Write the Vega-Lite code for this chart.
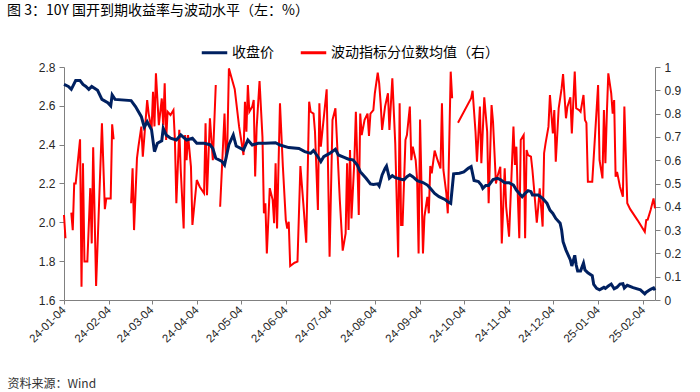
{
  "$schema": "https://vega.github.io/schema/vega-lite/v6.json",
  "width": 591,
  "height": 233,
  "autosize": "none",
  "padding": {"left": 64, "top": 67, "right": 45, "bottom": 92},
  "background": "white",
  "config": {
    "view": {"stroke": null},
    "font": "Liberation Sans",
    "axis": {"grid": false, "domainColor": "#808080", "tickColor": "#808080", "labelColor": "#262626", "labelFont": "Liberation Sans"},
    "legend": {"labelFont": "Noto Sans CJK SC", "labelFontSize": 14, "labelColor": "#000000", "labelLimit": 400}
  },
  "title": {
    "text": "图 3：10Y 国开到期收益率与波动水平（左：%）",
    "anchor": "start",
    "frame": "group",
    "dx": -57,
    "offset": 20,
    "fontSize": 14,
    "font": "Noto Sans CJK SC",
    "fontWeight": "normal",
    "color": "#000000"
  },
  "datasets": {
    "yield": [
      {"d":"2024-01-04","v":2.71},{"d":"2024-01-07","v":2.70},{"d":"2024-01-09","v":2.685},{"d":"2024-01-12","v":2.73},
      {"d":"2024-01-15","v":2.73},{"d":"2024-01-17","v":2.71},{"d":"2024-01-19","v":2.70},{"d":"2024-01-21","v":2.685},
      {"d":"2024-01-23","v":2.70},{"d":"2024-01-27","v":2.68},{"d":"2024-01-30","v":2.633},{"d":"2024-02-03","v":2.616},
      {"d":"2024-02-05","v":2.60},{"d":"2024-02-06","v":2.656},{"d":"2024-02-08","v":2.633},{"d":"2024-02-19","v":2.627},
      {"d":"2024-02-22","v":2.596},{"d":"2024-02-26","v":2.544},{"d":"2024-02-28","v":2.49},{"d":"2024-03-01","v":2.518},
      {"d":"2024-03-04","v":2.476},{"d":"2024-03-06","v":2.364},{"d":"2024-03-08","v":2.407},{"d":"2024-03-11","v":2.42},
      {"d":"2024-03-12","v":2.484},{"d":"2024-03-14","v":2.45},{"d":"2024-03-17","v":2.433},{"d":"2024-03-21","v":2.424},
      {"d":"2024-03-24","v":2.45},{"d":"2024-03-28","v":2.424},{"d":"2024-04-01","v":2.433},{"d":"2024-04-04","v":2.407},
      {"d":"2024-04-09","v":2.407},{"d":"2024-04-13","v":2.40},{"d":"2024-04-15","v":2.38},{"d":"2024-04-17","v":2.33},
      {"d":"2024-04-21","v":2.315},{"d":"2024-04-23","v":2.295},{"d":"2024-04-26","v":2.40},{"d":"2024-04-29","v":2.45},
      {"d":"2024-05-01","v":2.393},{"d":"2024-05-06","v":2.373},{"d":"2024-05-09","v":2.424},{"d":"2024-05-12","v":2.398},
      {"d":"2024-05-16","v":2.407},{"d":"2024-05-21","v":2.407},{"d":"2024-05-28","v":2.41},{"d":"2024-05-31","v":2.398},
      {"d":"2024-06-06","v":2.385},{"d":"2024-06-13","v":2.38},{"d":"2024-06-17","v":2.364},{"d":"2024-06-21","v":2.355},
      {"d":"2024-06-23","v":2.37},{"d":"2024-06-26","v":2.338},{"d":"2024-06-28","v":2.313},{"d":"2024-06-30","v":2.338},
      {"d":"2024-07-04","v":2.355},{"d":"2024-07-08","v":2.376},{"d":"2024-07-10","v":2.347},{"d":"2024-07-14","v":2.335},
      {"d":"2024-07-17","v":2.325},{"d":"2024-07-20","v":2.322},{"d":"2024-07-23","v":2.295},{"d":"2024-07-25","v":2.261},
      {"d":"2024-07-29","v":2.227},{"d":"2024-08-01","v":2.198},{"d":"2024-08-03","v":2.195},{"d":"2024-08-06","v":2.198},
      {"d":"2024-08-07","v":2.187},{"d":"2024-08-09","v":2.244},{"d":"2024-08-11","v":2.278},{"d":"2024-08-12","v":2.29},
      {"d":"2024-08-14","v":2.227},{"d":"2024-08-16","v":2.24},{"d":"2024-08-18","v":2.23},{"d":"2024-08-22","v":2.222},
      {"d":"2024-08-24","v":2.219},{"d":"2024-08-26","v":2.235},{"d":"2024-08-28","v":2.245},{"d":"2024-08-30","v":2.235},
      {"d":"2024-09-02","v":2.215},{"d":"2024-09-06","v":2.205},{"d":"2024-09-09","v":2.192},{"d":"2024-09-11","v":2.175},
      {"d":"2024-09-14","v":2.149},{"d":"2024-09-17","v":2.132},{"d":"2024-09-21","v":2.118},{"d":"2024-09-23","v":2.106},
      {"d":"2024-09-25","v":2.098},{"d":"2024-09-27","v":2.25},{"d":"2024-10-01","v":2.253},{"d":"2024-10-04","v":2.26},
      {"d":"2024-10-07","v":2.278},{"d":"2024-10-09","v":2.287},{"d":"2024-10-11","v":2.215},{"d":"2024-10-14","v":2.21},
      {"d":"2024-10-16","v":2.192},{"d":"2024-10-17","v":2.175},{"d":"2024-10-19","v":2.19},{"d":"2024-10-21","v":2.19},
      {"d":"2024-10-24","v":2.22},{"d":"2024-10-27","v":2.227},{"d":"2024-10-29","v":2.22},{"d":"2024-11-01","v":2.204},
      {"d":"2024-11-04","v":2.204},{"d":"2024-11-07","v":2.192},{"d":"2024-11-09","v":2.166},{"d":"2024-11-11","v":2.149},
      {"d":"2024-11-13","v":2.132},{"d":"2024-11-15","v":2.149},{"d":"2024-11-17","v":2.163},{"d":"2024-11-19","v":2.158},
      {"d":"2024-11-20","v":2.141},{"d":"2024-11-24","v":2.141},{"d":"2024-11-27","v":2.123},{"d":"2024-11-30","v":2.098},
      {"d":"2024-12-02","v":2.063},{"d":"2024-12-04","v":2.046},{"d":"2024-12-06","v":2.02},{"d":"2024-12-09","v":1.995},
      {"d":"2024-12-10","v":1.961},{"d":"2024-12-11","v":1.90},{"d":"2024-12-13","v":1.857},{"d":"2024-12-16","v":1.806},
      {"d":"2024-12-17","v":1.775},{"d":"2024-12-19","v":1.83},{"d":"2024-12-20","v":1.78},{"d":"2024-12-21","v":1.75},
      {"d":"2024-12-23","v":1.75},{"d":"2024-12-25","v":1.79},{"d":"2024-12-26","v":1.755},{"d":"2024-12-28","v":1.74},
      {"d":"2024-12-31","v":1.725},{"d":"2025-01-01","v":1.68},{"d":"2025-01-03","v":1.66},{"d":"2025-01-05","v":1.652},
      {"d":"2025-01-08","v":1.665},{"d":"2025-01-09","v":1.66},{"d":"2025-01-11","v":1.672},{"d":"2025-01-13","v":1.682},
      {"d":"2025-01-15","v":1.658},{"d":"2025-01-17","v":1.666},{"d":"2025-01-19","v":1.682},{"d":"2025-01-21","v":1.684},
      {"d":"2025-01-22","v":1.662},{"d":"2025-01-24","v":1.676},{"d":"2025-01-28","v":1.664},{"d":"2025-02-02","v":1.652},
      {"d":"2025-02-05","v":1.632},{"d":"2025-02-06","v":1.64},{"d":"2025-02-09","v":1.655},{"d":"2025-02-11","v":1.662},
      {"d":"2025-02-12","v":1.65}
    ],
    "vol": [
      {"d":"2024-01-04","v":0.365},{"d":"2024-01-05","v":0.265},{"d":"2024-01-07","v":null},{"d":"2024-01-09","v":0.375},
      {"d":"2024-01-10","v":0.30},{"d":"2024-01-11","v":0.50},{"d":"2024-01-12","v":0.50},{"d":"2024-01-15","v":0.69},
      {"d":"2024-01-16","v":0.057},{"d":"2024-01-17","v":0.587},{"d":"2024-01-18","v":0.165},{"d":"2024-01-20","v":0.165},
      {"d":"2024-01-22","v":0.48},{"d":"2024-01-23","v":0.243},{"d":"2024-01-24","v":0.655},{"d":"2024-01-26","v":0.06},
      {"d":"2024-01-30","v":0.758},{"d":"2024-02-01","v":0.39},{"d":"2024-02-02","v":0.436},{"d":"2024-02-05","v":0.436},
      {"d":"2024-02-06","v":0.754},{"d":"2024-02-07","v":0.69},{"d":"2024-02-08","v":null},{"d":"2024-02-19","v":0.415},
      {"d":"2024-02-20","v":0.565},{"d":"2024-02-21","v":0.30},{"d":"2024-02-23","v":0.608},{"d":"2024-02-24","v":0.658},
      {"d":"2024-02-26","v":0.744},{"d":"2024-02-27","v":0.615},{"d":"2024-03-01","v":0.858},{"d":"2024-03-02","v":0.80},
      {"d":"2024-03-04","v":0.73},{"d":"2024-03-05","v":0.894},{"d":"2024-03-06","v":0.745},{"d":"2024-03-07","v":0.973},
      {"d":"2024-03-09","v":0.75},{"d":"2024-03-11","v":0.865},{"d":"2024-03-12","v":0.75},{"d":"2024-03-13","v":0.93},
      {"d":"2024-03-14","v":0.687},{"d":"2024-03-15","v":0.808},{"d":"2024-03-17","v":0.794},{"d":"2024-03-19","v":0.815},
      {"d":"2024-03-20","v":0.687},{"d":"2024-03-21","v":0.415},{"d":"2024-03-23","v":0.73},{"d":"2024-03-24","v":0.558},
      {"d":"2024-03-26","v":0.307},{"d":"2024-03-27","v":0.708},{"d":"2024-03-28","v":0.60},{"d":"2024-03-29","v":0.708},
      {"d":"2024-03-31","v":0.572},{"d":"2024-04-01","v":0.322},{"d":"2024-04-04","v":0.515},{"d":"2024-04-06","v":0.486},
      {"d":"2024-04-09","v":0.458},{"d":"2024-04-10","v":0.758},{"d":"2024-04-11","v":0.45},{"d":"2024-04-13","v":0.78},
      {"d":"2024-04-15","v":0.60},{"d":"2024-04-17","v":0.923},{"d":"2024-04-18","v":null},{"d":"2024-04-20","v":0.40},
      {"d":"2024-04-23","v":0.80},{"d":"2024-04-24","v":0.60},{"d":"2024-04-25","v":0.687},{"d":"2024-04-26","v":0.994},
      {"d":"2024-04-28","v":0.95},{"d":"2024-04-30","v":0.905},{"d":"2024-05-03","v":0.744},{"d":"2024-05-06","v":0.622},
      {"d":"2024-05-07","v":0.851},{"d":"2024-05-08","v":0.722},{"d":"2024-05-09","v":0.923},{"d":"2024-05-10","v":0.808},
      {"d":"2024-05-12","v":0.83},{"d":"2024-05-13","v":0.858},{"d":"2024-05-14","v":0.53},{"d":"2024-05-15","v":0.737},
      {"d":"2024-05-17","v":0.94},{"d":"2024-05-19","v":0.70},{"d":"2024-05-20","v":0.372},{"d":"2024-05-21","v":0.415},
      {"d":"2024-05-22","v":0.20},{"d":"2024-05-24","v":0.48},{"d":"2024-05-26","v":0.43},{"d":"2024-05-27","v":0.33},
      {"d":"2024-05-28","v":0.587},{"d":"2024-05-29","v":0.307},{"d":"2024-05-31","v":0.844},{"d":"2024-06-02","v":0.572},
      {"d":"2024-06-04","v":0.343},{"d":"2024-06-05","v":0.307},{"d":"2024-06-06","v":0.336},{"d":"2024-06-07","v":0.146},
      {"d":"2024-06-10","v":0.16},{"d":"2024-06-12","v":0.165},{"d":"2024-06-14","v":0.575},{"d":"2024-06-16","v":0.415},
      {"d":"2024-06-18","v":0.246},{"d":"2024-06-20","v":0.851},{"d":"2024-06-21","v":0.808},{"d":"2024-06-23","v":0.80},
      {"d":"2024-06-24","v":0.722},{"d":"2024-06-26","v":0.386},{"d":"2024-06-27","v":0.844},{"d":"2024-06-28","v":0.658},
      {"d":"2024-07-02","v":0.904},{"d":"2024-07-04","v":0.186},{"d":"2024-07-06","v":0.773},{"d":"2024-07-08","v":0.823},
      {"d":"2024-07-11","v":0.43},{"d":"2024-07-13","v":0.212},{"d":"2024-07-15","v":0.286},{"d":"2024-07-16","v":0.587},
      {"d":"2024-07-17","v":0.30},{"d":"2024-07-18","v":0.644},{"d":"2024-07-19","v":0.35},{"d":"2024-07-21","v":0.60},
      {"d":"2024-07-22","v":0.808},{"d":"2024-07-23","v":0.60},{"d":"2024-07-24","v":0.365},{"d":"2024-07-25","v":0.80},
      {"d":"2024-07-26","v":0.708},{"d":"2024-07-28","v":0.773},{"d":"2024-07-30","v":0.80},{"d":"2024-07-31","v":0.704},
      {"d":"2024-08-01","v":0.80},{"d":"2024-08-03","v":0.815},{"d":"2024-08-04","v":0.887},{"d":"2024-08-06","v":0.976},
      {"d":"2024-08-07","v":0.93},{"d":"2024-08-08","v":0.844},{"d":"2024-08-09","v":0.73},{"d":"2024-08-11","v":0.83},
      {"d":"2024-08-13","v":0.887},{"d":"2024-08-14","v":0.73},{"d":"2024-08-16","v":0.951},{"d":"2024-08-18","v":0.672},
      {"d":"2024-08-19","v":0.43},{"d":"2024-08-20","v":0.183},{"d":"2024-08-21","v":0.844},{"d":"2024-08-22","v":0.322},
      {"d":"2024-08-23","v":0.322},{"d":"2024-08-25","v":0.687},{"d":"2024-08-26","v":0.708},{"d":"2024-08-28","v":0.83},
      {"d":"2024-08-29","v":0.60},{"d":"2024-08-30","v":0.658},{"d":"2024-09-01","v":0.60},{"d":"2024-09-02","v":0.515},
      {"d":"2024-09-03","v":0.20},{"d":"2024-09-04","v":0.775},{"d":"2024-09-06","v":0.20},{"d":"2024-09-07","v":0.358},
      {"d":"2024-09-09","v":0.443},{"d":"2024-09-10","v":0.372},{"d":"2024-09-11","v":0.575},{"d":"2024-09-12","v":0.544},
      {"d":"2024-09-14","v":0.641},{"d":"2024-09-16","v":0.60},{"d":"2024-09-18","v":0.565},{"d":"2024-09-19","v":0.844},
      {"d":"2024-09-20","v":0.558},{"d":"2024-09-22","v":0.458},{"d":"2024-09-23","v":0.372},{"d":"2024-09-25","v":0.98},
      {"d":"2024-09-26","v":0.866},{"d":"2024-09-27","v":null},{"d":"2024-09-30","v":0.761},{"d":"2024-10-09","v":0.866},
      {"d":"2024-10-10","v":0.898},{"d":"2024-10-12","v":0.722},{"d":"2024-10-13","v":0.594},{"d":"2024-10-15","v":0.83},
      {"d":"2024-10-16","v":0.587},{"d":"2024-10-18","v":0.87},{"d":"2024-10-20","v":0.722},{"d":"2024-10-21","v":0.415},
      {"d":"2024-10-23","v":0.837},{"d":"2024-10-24","v":0.765},{"d":"2024-10-26","v":0.50},{"d":"2024-10-27","v":0.53},
      {"d":"2024-10-29","v":0.572},{"d":"2024-10-30","v":0.243},{"d":"2024-11-01","v":0.565},{"d":"2024-11-02","v":0.40},
      {"d":"2024-11-04","v":0.272},{"d":"2024-11-07","v":0.744},{"d":"2024-11-08","v":0.58},{"d":"2024-11-09","v":0.658},
      {"d":"2024-11-10","v":0.443},{"d":"2024-11-11","v":0.265},{"d":"2024-11-12","v":0.687},{"d":"2024-11-14","v":0.708},
      {"d":"2024-11-15","v":0.265},{"d":"2024-11-16","v":0.644},{"d":"2024-11-17","v":0.622},{"d":"2024-11-19","v":0.615},
      {"d":"2024-11-20","v":0.558},{"d":"2024-11-21","v":0.486},{"d":"2024-11-23","v":0.332},{"d":"2024-11-24","v":0.40},
      {"d":"2024-11-25","v":0.479},{"d":"2024-11-27","v":0.315},{"d":"2024-11-28","v":0.63},{"d":"2024-11-29","v":0.672},
      {"d":"2024-12-01","v":0.744},{"d":"2024-12-02","v":0.88},{"d":"2024-12-04","v":0.715},{"d":"2024-12-05","v":0.815},
      {"d":"2024-12-06","v":0.594},{"d":"2024-12-08","v":0.823},{"d":"2024-12-10","v":0.908},{"d":"2024-12-11","v":0.97},
      {"d":"2024-12-13","v":0.78},{"d":"2024-12-14","v":0.83},{"d":"2024-12-16","v":0.87},{"d":"2024-12-17","v":0.715},
      {"d":"2024-12-19","v":0.98},{"d":"2024-12-20","v":0.823},{"d":"2024-12-22","v":0.815},{"d":"2024-12-23","v":0.808},
      {"d":"2024-12-24","v":0.844},{"d":"2024-12-25","v":0.88},{"d":"2024-12-26","v":0.773},{"d":"2024-12-27","v":0.76},
      {"d":"2024-12-28","v":0.508},{"d":"2024-12-30","v":0.508},{"d":"2024-12-31","v":0.508},{"d":"2025-01-02","v":0.715},
      {"d":"2025-01-04","v":0.923},{"d":"2025-01-05","v":0.60},{"d":"2025-01-07","v":0.522},{"d":"2025-01-08","v":0.815},
      {"d":"2025-01-09","v":0.587},{"d":"2025-01-10","v":0.80},{"d":"2025-01-11","v":0.973},{"d":"2025-01-13","v":0.887},
      {"d":"2025-01-14","v":0.80},{"d":"2025-01-15","v":0.858},{"d":"2025-01-16","v":0.529},{"d":"2025-01-17","v":0.55},
      {"d":"2025-01-19","v":0.486},{"d":"2025-01-21","v":0.443},{"d":"2025-01-22","v":0.83},{"d":"2025-01-24","v":0.415},
      {"d":"2025-01-26","v":0.39},{"d":"2025-01-31","v":0.343},{"d":"2025-02-05","v":0.293},{"d":"2025-02-06","v":0.343},
      {"d":"2025-02-07","v":0.345},{"d":"2025-02-09","v":0.386},{"d":"2025-02-11","v":0.436},{"d":"2025-02-12","v":0.393}
    ]
  },
  "layer": [
    {
      "data": {"name": "vol"},
      "mark": {"type": "line", "strokeWidth": 2, "invalid": "break-paths-filter-domains"},
      "encoding": {
        "x": {
          "field": "d", "type": "temporal",
          "scale": {"type": "utc", "domain": [{"year": 2024, "month": 1, "date": 4, "utc": true}, {"year": 2025, "month": 2, "date": 12, "utc": true}]},
          "axis": {
            "format": "%y-%m-%d",
            "values": [
              {"year":2024,"month":1,"date":4,"utc":true},{"year":2024,"month":2,"date":4,"utc":true},{"year":2024,"month":3,"date":4,"utc":true},
              {"year":2024,"month":4,"date":4,"utc":true},{"year":2024,"month":5,"date":4,"utc":true},{"year":2024,"month":6,"date":4,"utc":true},
              {"year":2024,"month":7,"date":4,"utc":true},{"year":2024,"month":8,"date":4,"utc":true},{"year":2024,"month":9,"date":4,"utc":true},
              {"year":2024,"month":10,"date":4,"utc":true},{"year":2024,"month":11,"date":4,"utc":true},{"year":2024,"month":12,"date":4,"utc":true},
              {"year":2025,"month":1,"date":4,"utc":true},{"year":2025,"month":2,"date":4,"utc":true}
            ],
            "labelAngle": -45, "labelAlign": "right", "labelBaseline": "middle",
            "labelFontSize": 11.5, "tickSize": 4, "labelPadding": 4, "labelOverlap": false,
            "title": "资料来源：Wind", "titleFont": "Noto Sans CJK SC", "titleFontSize": 12, "titleFontWeight": "normal",
            "titleColor": "#333333", "titleAnchor": "start", "titleAlign": "left", "titleBaseline": "middle",
            "titleX": -57, "titleY": 83
          }
        },
        "y": {
          "field": "v", "type": "quantitative",
          "scale": {"domain": [0, 1], "nice": false},
          "axis": {"orient": "right", "title": null, "values": [0,0.1,0.2,0.3,0.4,0.5,0.6,0.7,0.8,0.9,1], "format": ".1~f", "labelFontSize": 12, "tickSize": 5, "labelPadding": 4}
        },
        "color": {
          "datum": "波动指标分位数均值（右）",
          "scale": {"domain": ["收盘价", "波动指标分位数均值（右）"], "range": ["#002060", "#FF0000"]},
          "legend": {"orient": "none", "direction": "horizontal", "legendX": 136, "legendY": -29, "title": null, "symbolType": "stroke", "symbolStrokeWidth": 3, "symbolSize": 650, "columnPadding": 20, "labelOffset": 3, "labelLimit": 400}
        }
      }
    },
    {
      "data": {"name": "yield"},
      "mark": {"type": "line", "strokeWidth": 3},
      "encoding": {
        "x": {"field": "d", "type": "temporal"},
        "y": {
          "field": "v", "type": "quantitative",
          "scale": {"domain": [1.6, 2.8], "nice": false},
          "axis": {"orient": "left", "title": null, "values": [1.6,1.8,2.0,2.2,2.4,2.6,2.8], "format": ".1f", "labelFontSize": 12, "tickSize": 5, "labelPadding": 4}
        },
        "color": {"datum": "收盘价"}
      }
    }
  ],
  "resolve": {"scale": {"y": "independent"}}
}
